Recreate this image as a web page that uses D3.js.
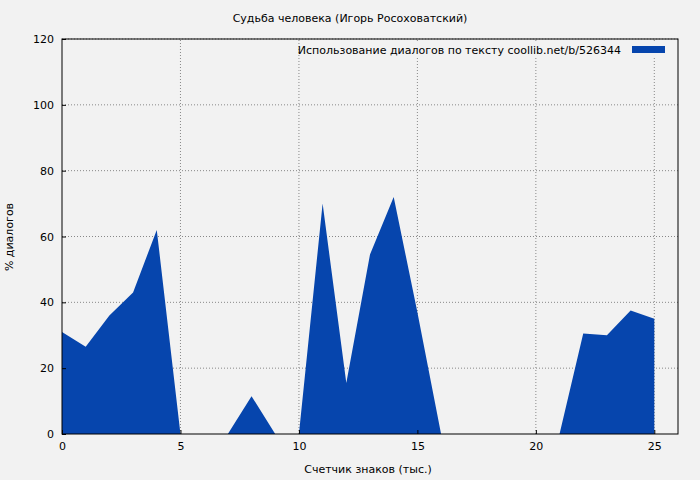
<!doctype html>
<meta charset="utf-8">
<script src="https://cdn.jsdelivr.net/npm/d3@7"></script>
<style>
  body { margin: 0; background: #f2f2f2; }
  text { font-family: "DejaVu Sans", sans-serif; font-size: 11px; fill: #000; }
  .grid line { stroke: #888; stroke-dasharray: 1,2; }
</style>
<svg id="chart" width="700" height="480"></svg>
<script>
// values
var xs = [0,1,2,3,4,5,6,7,8,9,10,11,12,13,14,15,16,17,18,19,20,21,22,23,24,25];
var pct = [31,26.5,36,43,62,0,0,0,11.5,0,0,70,15.5,54.5,72,37,0,0,0,0,0,0,30.5,30,37.5,35];
var xTicks = [0,5,10,15,20,25];
var yTicks = [0,20,40,60,80,100,120];

var svg = d3.select("#chart");
var m = {left: 62, right: 22, top: 39, bottom: 46};
var w = 700 - m.left - m.right, h = 480 - m.top - m.bottom;

var x = d3.scaleLinear().domain([0, 26]).range([m.left, m.left + w]);
var y = d3.scaleLinear().domain([0, 120]).range([m.top + h, m.top]);

var grid = svg.append("g").attr("class", "grid");
grid.selectAll(".gx").data(xTicks.slice(1)).enter().append("line")
    .attr("x1", x).attr("x2", x).attr("y1", y(0)).attr("y2", y(120));
grid.selectAll(".gy").data(yTicks.slice(1)).enter().append("line")
    .attr("x1", x(0)).attr("x2", x(26)).attr("y1", y).attr("y2", y);

var area = d3.area().x(function(d, i) { return x(xs[i]); })
    .y0(y(0)).y1(function(d) { return y(d); });
svg.append("path").datum(pct).attr("d", area).attr("fill", "#0645ad");

svg.append("rect").attr("x", m.left).attr("y", m.top).attr("width", w).attr("height", h)
    .attr("fill", "none").attr("stroke", "#000");

svg.append("g").attr("transform", "translate(0," + y(0) + ")")
    .call(d3.axisBottom(x).tickValues(xTicks).tickSize(-4).tickPadding(8))
    .call(function(g) { g.select(".domain").remove(); });
svg.append("g").attr("transform", "translate(" + x(0) + ",0)")
    .call(d3.axisLeft(y).tickValues(yTicks).tickSize(-4).tickPadding(8))
    .call(function(g) { g.select(".domain").remove(); });
svg.selectAll(".tick text").style("font-size", "11px").style("font-family", "DejaVu Sans");

// legend
var lg = svg.append("g");
lg.append("rect").attr("x", 300).attr("y", 42).attr("width", 374).attr("height", 16).attr("fill", "#f2f2f2");
lg.append("text").attr("x", 621).attr("y", 54).attr("text-anchor", "end")
    .text("Использование диалогов по тексту  coollib.net/b/526344");
lg.append("rect").attr("x", 632).attr("y", 46).attr("width", 33).attr("height", 7).attr("fill", "#0645ad");

svg.append("text").attr("x", 350).attr("y", 22).attr("text-anchor", "middle")
    .text("Судьба человека (Игорь Росоховатский)");
svg.append("text").attr("x", 368).attr("y", 473).attr("text-anchor", "middle")
    .text("Счетчик знаков (тыс.)");
svg.append("text").attr("transform", "translate(13,237) rotate(-90)").attr("text-anchor", "middle")
    .text("% диалогов");
</script>
